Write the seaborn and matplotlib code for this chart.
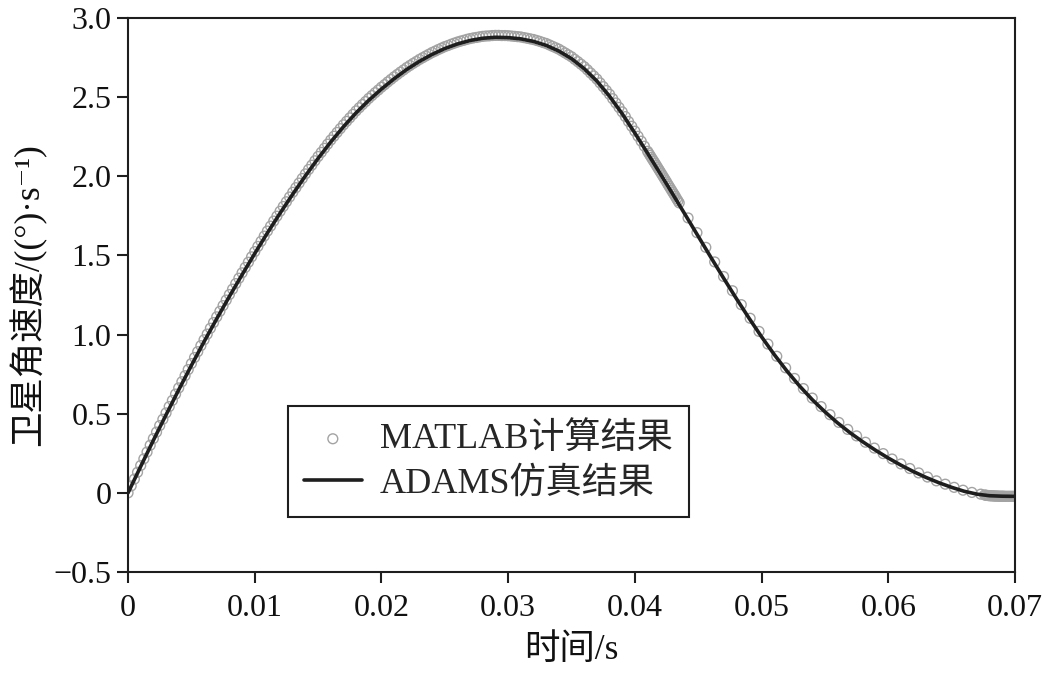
import numpy as np
import pandas as pd
import matplotlib
matplotlib.use("Agg")
import matplotlib.pyplot as plt
import seaborn as sns

# ---------------- data (time in ms, angular velocity in deg/s) ----------------
adams_t_ms = [0, 1, 2, 3, 4, 5, 6, 7, 8, 9, 10, 11, 12, 13, 14, 15, 16, 17, 18, 19,
              20, 21, 22, 23, 24, 25, 26, 27, 28, 29, 30, 31, 32, 33, 34, 35, 36, 37, 38, 39,
              40, 41, 42, 43, 44, 45, 46, 47, 48, 49, 50, 51, 52, 53, 54, 55, 56, 57, 58, 59,
              60, 61, 62, 63, 64, 65, 66, 67, 68, 69, 70]
adams_v = [0.000, 0.167, 0.332, 0.493, 0.651, 0.805, 0.955, 1.100, 1.241, 1.378,
           1.512, 1.642, 1.767, 1.887, 2.003, 2.113, 2.217, 2.313, 2.401, 2.480,
           2.551, 2.616, 2.675, 2.726, 2.770, 2.807, 2.836, 2.858, 2.872, 2.878,
           2.876, 2.868, 2.852, 2.827, 2.791, 2.743, 2.680, 2.602, 2.506, 2.395,
           2.273, 2.146, 2.017, 1.886, 1.754, 1.621, 1.488, 1.357, 1.229, 1.105,
           0.986, 0.874, 0.770, 0.675, 0.589, 0.512, 0.442, 0.379, 0.322, 0.269,
           0.220, 0.175, 0.134, 0.097, 0.064, 0.035, 0.010, -0.008, -0.018, -0.021,
           -0.022]

matlab_t_ms = [
    0, 0.25, 0.5, 0.75, 1, 1.25, 1.5, 1.75, 2, 2.25, 2.5, 2.75, 3, 3.25, 3.5, 3.75,
    4, 4.25, 4.5, 4.75, 5, 5.25, 5.5, 5.75, 6, 6.25, 6.5, 6.75, 7, 7.25, 7.5, 7.75,
    8, 8.25, 8.5, 8.75, 9, 9.25, 9.5, 9.75, 10, 10.25, 10.5, 10.75, 11, 11.25, 11.5, 11.75,
    12, 12.25, 12.5, 12.75, 13, 13.25, 13.5, 13.75, 14, 14.25, 14.5, 14.75, 15, 15.25, 15.5, 15.75,
    16, 16.25, 16.5, 16.75, 17, 17.25, 17.5, 17.75, 18, 18.25, 18.5, 18.75, 19, 19.25, 19.5, 19.75,
    20, 20.25, 20.5, 20.75, 21, 21.25, 21.5, 21.75, 22, 22.25, 22.5, 22.75, 23, 23.25, 23.5, 23.75,
    24, 24.25, 24.5, 24.75, 25, 25.25, 25.5, 25.75, 26, 26.25, 26.5, 26.75, 27, 27.25, 27.5, 27.75,
    28, 28.25, 28.5, 28.75, 29, 29.25, 29.5, 29.75, 30, 30.25, 30.5, 30.75, 31, 31.25, 31.5, 31.75,
    32, 32.25, 32.5, 32.75, 33, 33.25, 33.5, 33.75, 34, 34.25, 34.5, 34.75, 35, 35.25, 35.5, 35.75,
    36, 36.25, 36.5, 36.75, 37, 37.25, 37.5, 37.75, 38, 38.25, 38.5, 38.75, 39, 39.25, 39.5, 39.75,
    40, 40.25, 40.5, 40.75, 41,
    41.1, 41.2, 41.3, 41.4, 41.5, 41.6, 41.7, 41.8, 41.9, 42.0, 42.1, 42.2, 42.3, 42.4, 42.5,
    42.6, 42.7, 42.8, 42.9, 43.0, 43.1, 43.2, 43.3, 43.4, 43.5,
    44.2, 44.9, 45.6, 46.3, 47.0, 47.7, 48.4, 49.1, 49.8, 50.5, 51.2, 51.9, 52.6, 53.3,
    54.0, 54.7, 55.4, 56.1, 56.8, 57.5, 58.2, 58.9, 59.6, 60.3, 61.0, 61.7, 62.4, 63.1,
    63.8, 64.5, 65.2, 65.9, 66.6, 67.3,
    67.6, 67.7, 67.8, 67.9, 68.0, 68.1, 68.2, 68.3, 68.4, 68.5, 68.6, 68.7, 68.8, 68.9,
    69.0, 69.1, 69.2, 69.3, 69.4, 69.5, 69.6, 69.7, 69.8, 69.9, 70.0]
matlab_v = [
    0.000, 0.044, 0.087, 0.130, 0.173, 0.215, 0.258, 0.301, 0.343, 0.384, 0.425, 0.465, 0.505, 0.545, 0.584, 0.624,
    0.663, 0.702, 0.740, 0.779, 0.817, 0.855, 0.892, 0.930, 0.967, 1.003, 1.040, 1.076, 1.112, 1.147, 1.183, 1.218,
    1.253, 1.287, 1.322, 1.356, 1.390, 1.424, 1.457, 1.491, 1.524, 1.557, 1.589, 1.622, 1.654, 1.685, 1.717, 1.748,
    1.779, 1.809, 1.839, 1.869, 1.899, 1.928, 1.957, 1.986, 2.015, 2.043, 2.070, 2.098, 2.125, 2.151, 2.177, 2.203,
    2.229, 2.253, 2.277, 2.301, 2.325, 2.347, 2.369, 2.391, 2.413, 2.433, 2.453, 2.472, 2.492, 2.510, 2.528, 2.545,
    2.563, 2.579, 2.596, 2.612, 2.628, 2.643, 2.658, 2.672, 2.687, 2.700, 2.713, 2.725, 2.738, 2.749, 2.760, 2.771,
    2.782, 2.791, 2.801, 2.810, 2.819, 2.826, 2.834, 2.841, 2.848, 2.854, 2.859, 2.865, 2.870, 2.874, 2.877, 2.881,
    2.884, 2.886, 2.887, 2.889, 2.890, 2.890, 2.889, 2.889, 2.888, 2.886, 2.884, 2.882, 2.880, 2.876, 2.872, 2.868,
    2.864, 2.858, 2.852, 2.845, 2.839, 2.830, 2.821, 2.812, 2.803, 2.791, 2.779, 2.767, 2.755, 2.739, 2.724, 2.708,
    2.692, 2.673, 2.653, 2.634, 2.614, 2.590, 2.566, 2.542, 2.518, 2.490, 2.463, 2.435, 2.407, 2.377, 2.346, 2.316,
    2.285, 2.253, 2.222, 2.190, 2.158,
    2.145, 2.132, 2.119, 2.106, 2.094, 2.081, 2.068, 2.055, 2.042, 2.029, 2.016, 2.003, 1.990, 1.977, 1.964,
    1.950, 1.937, 1.924, 1.911, 1.898, 1.885, 1.872, 1.858, 1.845, 1.832,
    1.737, 1.644, 1.551, 1.459, 1.367, 1.277, 1.189, 1.103, 1.020, 0.940, 0.863, 0.790, 0.723, 0.659,
    0.599, 0.545, 0.494, 0.445, 0.401, 0.360, 0.320, 0.283, 0.248, 0.214, 0.183, 0.154, 0.126, 0.100,
    0.076, 0.055, 0.035, 0.017, 0.003, -0.008,
    -0.013, -0.015, -0.016, -0.017, -0.018, -0.018, -0.019, -0.019, -0.020, -0.020, -0.020, -0.021, -0.021, -0.021,
    -0.021, -0.021, -0.022, -0.022, -0.022, -0.022, -0.022, -0.022, -0.022, -0.022, -0.022]

x_ticks = [0, 0.01, 0.02, 0.03, 0.04, 0.05, 0.06, 0.07]
x_tick_labels = ["0", "0.01", "0.02", "0.03", "0.04", "0.05", "0.06", "0.07"]
y_ticks = [-0.5, 0, 0.5, 1.0, 1.5, 2.0, 2.5, 3.0]
y_tick_labels = ["\u22120.5", "0", "0.5", "1.0", "1.5", "2.0", "2.5", "3.0"]

series_names = ["MATLAB计算结果", "ADAMS仿真结果"]
x_label = "时间/s"
y_label = "卫星角速度/((°)·s⁻¹)"

# ---------------- styling ----------------
sns.set_theme(style="ticks")
plt.rcParams["font.family"] = ["Liberation Serif", "Noto Sans CJK SC", "DejaVu Serif"]
plt.rcParams["axes.unicode_minus"] = True

df_matlab = pd.DataFrame({"t": np.array(matlab_t_ms) / 1000.0, "v": matlab_v})
df_adams = pd.DataFrame({"t": np.array(adams_t_ms) / 1000.0, "v": adams_v})

fig = plt.figure(figsize=(10.52, 6.76), dpi=100)
ax = fig.add_axes([0.1217, 0.1538, 0.8431, 0.8196])

sns.scatterplot(data=df_matlab, x="t", y="v", ax=ax, marker="o", s=50,
                facecolors="none", edgecolor="#a3a3a3", linewidth=1.0,
                label=series_names[0], zorder=2)
sns.lineplot(data=df_adams, x="t", y="v", ax=ax, color="#1e1e1e", linewidth=2.6,
             label=series_names[1], zorder=3, sort=False)

ax.set_xlim(0, 0.07)
ax.set_ylim(-0.5, 3.0)
ax.set_xticks(x_ticks)
ax.set_xticklabels(x_tick_labels)
ax.set_yticks(y_ticks)
ax.set_yticklabels(y_tick_labels)

for sp in ax.spines.values():
    sp.set_visible(True)
    sp.set_color("#1e1e1e")
    sp.set_linewidth(1.5)

ax.tick_params(axis="both", which="major", direction="out", length=8, width=1.5,
               colors="#1e1e1e", labelsize=23, labelcolor="#111111")
ax.tick_params(axis="x", pad=8)
ax.tick_params(axis="y", pad=4)

ax.set_xlabel(x_label, fontsize=25.5, color="#111111")
ax.set_ylabel(y_label, fontsize=25.5, color="#111111")
ax.xaxis.set_label_coords(0.5, -0.112)
ax.yaxis.set_label_coords(-0.092, 0.5)

leg = ax.legend(loc="upper left", bbox_to_anchor=(0.180, 0.2996), fontsize=26,
                frameon=True, fancybox=False, edgecolor="#1e1e1e", framealpha=1,
                handlelength=1.6, handletextpad=0.5, borderpad=0.45, labelspacing=0.3,
                borderaxespad=0, markerscale=1.0)
leg.get_frame().set_linewidth(1.5)

fig.savefig("out.png", dpi=100, facecolor="white")
